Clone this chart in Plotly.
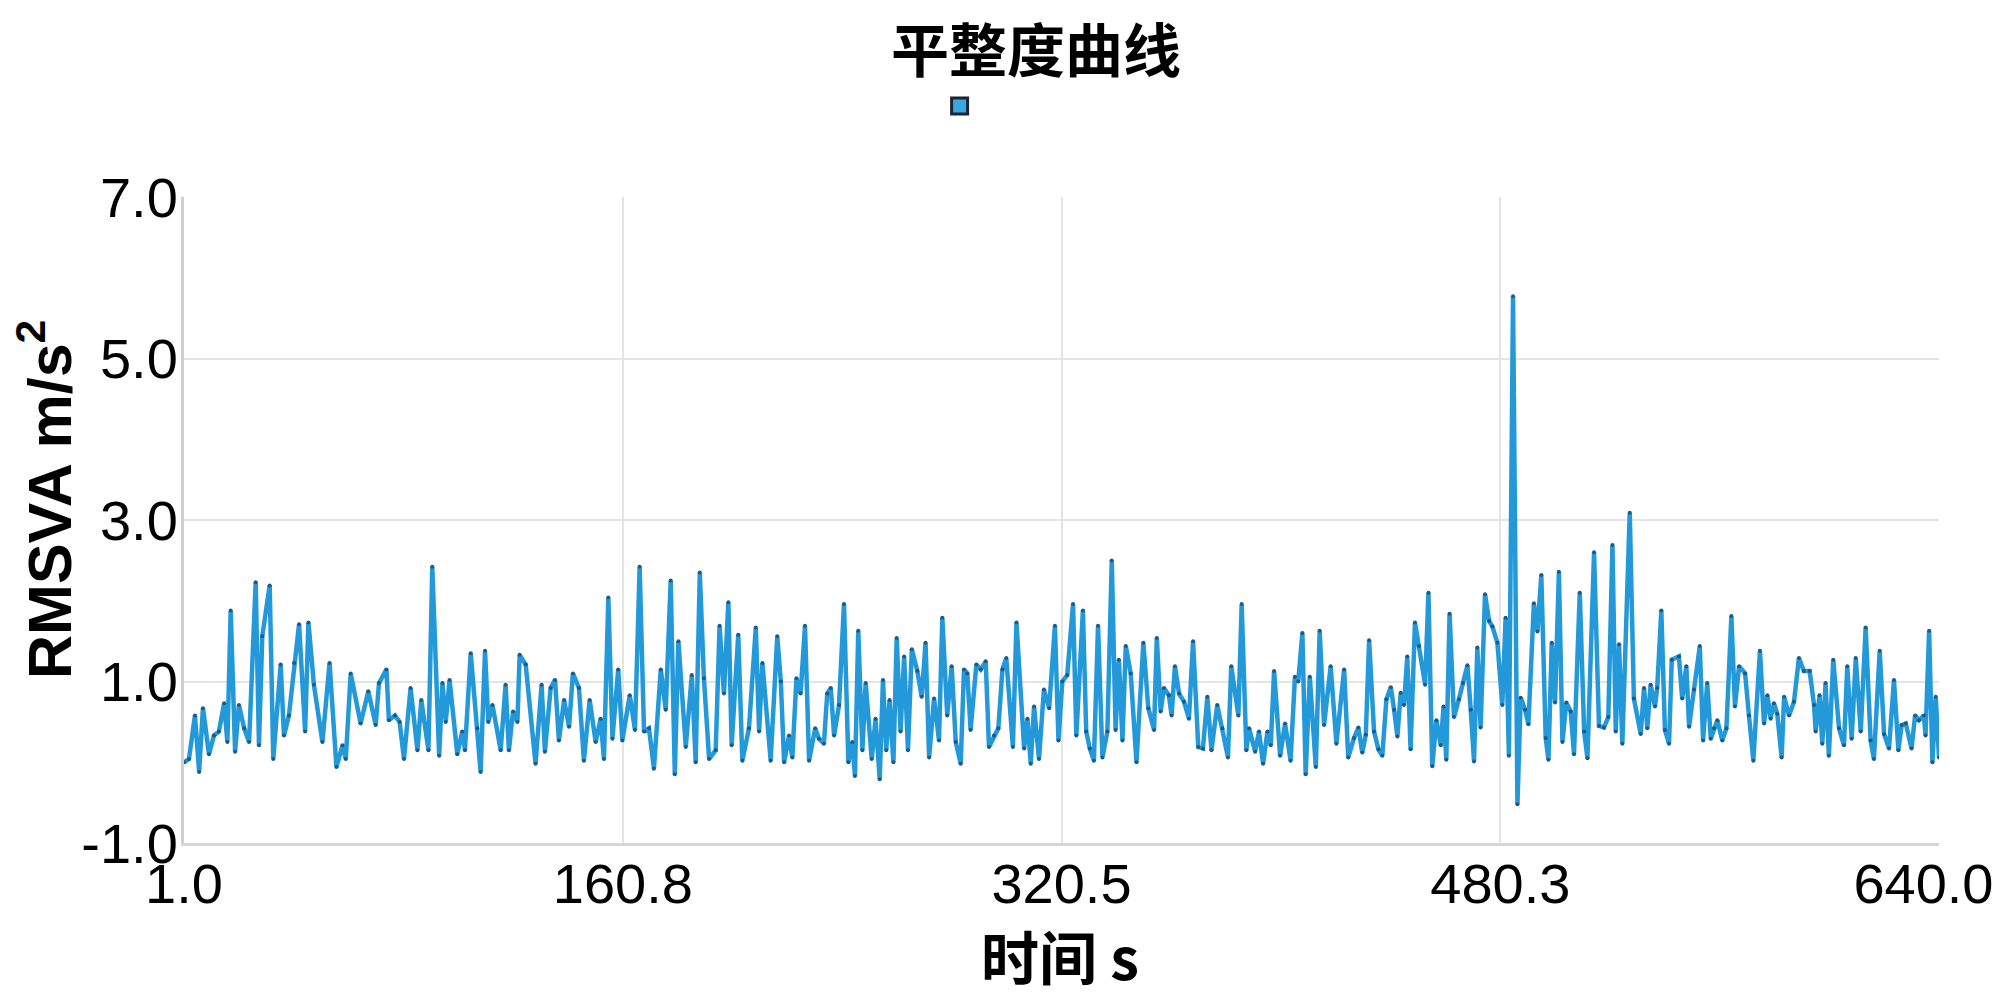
import plotly.graph_objects as go

# time axis (s)
time_s = [
    1.0, 2.8, 5.0, 6.5, 7.9, 10.1, 11.9, 13.7, 15.6, 16.8,
    18.0, 19.6, 21.0, 22.9, 24.7, 27.1, 28.3, 29.5, 32.2, 33.5,
    36.2, 37.4, 39.2, 41.1, 42.9, 45.1, 46.3, 48.3, 51.4, 54.0,
    56.5, 58.7, 59.9, 61.7, 65.3, 68.1, 70.8, 72.0, 74.7, 75.6,
    77.8, 79.5, 81.1, 83.5, 86.0, 87.4, 90.0, 91.4, 93.9, 95.1,
    96.3, 97.7, 100.5, 102.3, 103.3, 105.4, 107.8,
    109.0, 110.6, 111.8, 113.3, 116.3, 118.1, 119.3, 120.8, 122.4, 123.2,
    125.4, 129.0, 131.2, 132.4, 134.5, 136.1, 137.5, 139.4, 141.2, 142.6,
    144.8, 146.6, 148.7, 150.9, 152.7, 153.9, 155.5, 157.0, 159.1, 160.6,
    163.3, 165.2, 166.9, 168.5, 170.3, 172.1, 174.6, 176.4, 178.2, 179.7,
    181.0, 183.7, 185.9, 187.3, 188.8, 190.3, 192.2, 194.6, 196.0, 197.6,
    199.2, 200.4, 202.8, 204.3, 206.7, 209.2, 210.4, 211.6,
    214.6, 217.0, 218.3, 219.5, 221.3, 222.5, 224.0, 225.5, 227.1, 228.6,
    230.8, 232.2, 234.0, 235.2, 236.5, 237.7, 239.5, 241.3, 242.9, 244.3,
    245.3, 246.5, 248.0, 249.2, 251.4, 252.8, 254.3, 255.5, 256.7, 257.9,
    259.3, 260.5, 261.9, 263.2, 264.6, 266.0, 268.0, 269.6, 271.0, 272.3,
    274.1, 275.9, 277.1, 278.9, 280.5, 282.0, 283.8, 285.0, 286.2, 287.4,
    289.5, 291.1, 292.9, 294.1, 295.9, 297.5, 299.0, 300.4, 302.8, 304.1,
    306.9, 308.1, 309.3, 310.5, 312.3, 314.1, 316.0, 318.1,
    319.4, 320.8, 322.6, 324.7, 325.9, 328.3, 329.5, 330.8, 332.3, 333.8,
    335.4, 337.2, 338.8, 340.2, 341.4, 342.7, 343.9, 345.7, 347.8, 350.3,
    352.1, 354.2, 355.2, 356.6, 357.8, 359.6, 360.6, 361.8, 363.3, 365.1,
    366.9, 368.4, 370.3, 372.0, 373.6, 375.1, 377.2, 379.1, 381.1, 382.3,
    384.9, 386.1, 387.8, 388.8, 391.0, 392.4, 393.9, 395.5, 396.7, 397.9,
    400.1, 401.9, 403.9, 405.5, 406.7, 408.2, 409.4, 410.9, 413.1, 414.5,
    416.1, 418.5, 420.6, 423.4, 424.9,
    427.0, 428.6, 430.0, 431.3, 432.5, 434.3, 435.9, 437.3, 438.8, 440.4,
    441.6, 442.8, 444.0, 445.2, 446.4, 447.6, 449.2, 450.7, 452.9, 454.1,
    455.5, 457.0, 458.6, 459.6, 460.6, 461.8, 463.4, 465.2, 466.7, 468.3,
    469.5, 470.7, 471.9, 473.1, 474.7, 476.2, 477.4, 479.2, 481.0, 482.2,
    483.4, 484.9, 486.5, 487.7, 489.3, 490.5, 492.5, 493.8, 495.2, 496.8,
    497.8, 499.0, 500.2, 501.6, 502.9, 504.3, 505.9, 507.1, 509.2, 510.8,
    512.0, 514.4, 516.2, 518.0, 519.6, 521.1, 522.3, 523.5, 524.7, 527.4,
    528.9, 531.4, 532.6, 533.8, 535.0, 536.6, 537.4, 538.9, 540.2, 541.7,
    542.7, 545.3, 546.5, 548.0, 549.0, 550.8, 552.9, 554.1, 555.6, 556.9,
    558.1, 559.3, 561.1, 562.6, 564.4, 565.7, 567.2, 569.4, 570.8, 572.4,
    574.8, 576.3, 577.5, 578.7, 579.9, 581.1, 582.7, 583.6, 585.4, 587.2,
    589.0, 590.8, 592.9, 594.5, 595.1, 596.5, 597.5, 598.7, 599.9, 601.5,
    603.6, 605.4, 606.6, 608.2, 609.7, 611.5, 613.3, 615.1, 616.3, 618.4,
    620.0, 621.8, 623.6, 625.2, 626.4, 627.9, 630.0, 631.3, 632.7, 634.5,
    635.1, 636.4, 637.6, 638.8, 640.0,
]

# RMSVA (m/s^2) at each time
rmsva = [
    0.0, 0.04, 0.58, -0.12, 0.67, 0.10, 0.33, 0.38, 0.73, 0.25,
    1.88, 0.13, 0.71, 0.42, 0.25, 2.23, 0.21, 1.56, 2.19, 0.04,
    1.21, 0.33, 0.58, 1.23, 1.71, 0.38, 1.73, 0.96, 0.25, 1.23,
    -0.06, 0.21, 0.04, 1.10, 0.48, 0.88, 0.46, 0.98, 1.15, 0.52,
    0.58, 0.50, 0.04, 0.92, 0.15, 0.77, 0.15, 2.42, 0.08, 0.98,
    0.50, 1.02, 0.10, 0.38, 0.15, 1.35, 0.42,
    -0.12, 1.38, 0.50, 0.71, 0.15, 0.96, 0.15, 0.63, 0.50, 1.33,
    1.21, -0.02, 0.96, 0.13, 0.92, 1.02, 0.27, 0.77, 0.44, 1.10,
    0.92, 0.02, 0.77, 0.25, 0.54, 0.04, 2.04, 0.29, 1.15, 0.27,
    0.83, 0.40, 2.42, 0.38, 0.42, -0.08, 1.15, 0.65, 2.25, -0.15,
    1.50, 0.19, 1.08, 0.0, 2.35, 1.04, 0.04, 0.15, 1.69, 0.85,
    1.98, 0.21, 1.58, 0.02, 0.42, 1.67, 0.38, 1.23,
    0.02, 1.56, 1.00, 0.0, 0.33, 0.06, 1.04, 0.85, 1.69, 0.02,
    0.42, 0.29, 0.23, 0.85, 0.92, 0.33, 0.71, 1.96, 0.0, 0.25,
    -0.17, 1.63, 0.15, 0.98, 0.04, 0.54, -0.21, 1.02, 0.15, 0.77,
    0.0, 1.54, 0.38, 1.31, 0.15, 1.40, 1.13, 0.81, 1.48, 0.06,
    0.79, 0.27, 1.79, 0.58, 1.19, 0.25, -0.02, 1.15, 1.10, 0.40,
    1.21, 1.15, 1.25, 0.19, 0.33, 0.42, 1.15, 1.29, 0.19, 1.73,
    0.17, 0.54, -0.02, 0.69, 0.04, 0.90, 0.67, 1.69,
    0.27, 1.00, 1.08, 1.96, 0.33, 1.88, 0.38, 0.17, 0.02, 1.69,
    0.06, 0.38, 2.50, 0.40, 1.27, 0.27, 1.44, 1.10, 0.0, 1.48,
    0.67, 0.40, 1.54, 0.63, 0.92, 0.83, 0.58, 1.19, 0.85, 0.75,
    0.54, 1.50, 0.19, 0.17, 0.81, 0.15, 0.71, 0.42, 0.06, 1.19,
    0.58, 1.96, 0.15, 0.42, 0.13, 0.38, -0.02, 0.38, 0.21, 1.13,
    0.08, 0.48, 0.02, 1.06, 1.00, 1.60, -0.15, 1.06, -0.06, 1.63,
    0.46, 1.19, 0.23, 1.15, 0.06,
    0.30, 0.43, 0.12, 0.34, 1.51, 0.38, 0.16, 0.08, 0.78, 0.93,
    0.65, 0.32, 0.86, 0.71, 1.31, 0.16, 1.73, 1.44, 0.96, 2.10,
    -0.05, 0.52, 0.21, 0.69, 0.03, 1.84, 0.56, 0.78, 0.98, 1.20,
    0.65, 0.01, 1.42, 0.43, 2.08, 1.75, 1.68, 1.48, 0.71, 1.79,
    0.08, 5.77, -0.52, 0.80, 0.65, 0.47, 1.97, 1.62, 2.32, 0.30,
    0.03, 1.48, 0.74, 2.36, 0.25, 0.74, 0.63, 0.10, 2.10, 0.38,
    0.05, 2.60, 0.45, 0.43, 0.56, 2.69, 0.38, 1.46, 0.23, 3.09,
    0.79, 0.35, 0.92, 0.42, 0.96, 0.69, 0.92, 1.88, 0.40, 0.23,
    1.27, 1.31, 0.79, 1.19, 0.44, 0.90, 1.44, 0.27, 0.98, 0.29,
    0.42, 0.52, 0.27, 0.42, 1.81, 0.69, 1.19, 1.10, 0.58, 0.02,
    1.38, 0.48, 0.83, 0.54, 0.73, 0.60, 0.06, 0.81, 0.58, 0.75,
    1.29, 1.13, 1.13, 0.71, 0.38, 0.83, 0.23, 0.98, 0.08, 1.27,
    0.42, 0.21, 1.19, 0.29, 1.29, 0.38, 1.67, 0.27, 0.04, 1.38,
    0.35, 0.17, 1.02, 0.15, 0.46, 0.48, 0.17, 0.58, 0.52, 0.58,
    0.33, 1.63, 0.0, 0.81, 0.06,
]

x_ticks = [1.0, 160.8, 320.5, 480.3, 640.0]
y_ticks = [-1.0, 1.0, 3.0, 5.0, 7.0]

LATIN = "Liberation Sans, Arial, Noto Sans CJK SC, sans-serif"
CJK = "Noto Sans CJK SC, Liberation Sans, sans-serif"

# last x label sits pulled in from the right edge, as in the original
x_labels = [f'{v:.1f}' for v in x_ticks]
x_labels[-1] = x_labels[-1] + '\u00a0' * 2

# the page body adds an 8px margin, so the figure is 8px smaller each way
W, H = 1992, 998

fig = go.Figure()

# the curve itself
fig.add_trace(go.Scatter(
    x=time_s,
    y=rmsva,
    mode='lines+markers',
    line=dict(color='#2499da', width=4.5),
    marker=dict(size=4, color='#1d5a85'),
    showlegend=False
))

# legend swatch only (no label in the original)
fig.add_trace(go.Scatter(
    x=[None],
    y=[None],
    mode='markers',
    name=' ',
    marker=dict(symbol='square', size=16, color='#3aa6e2',
                line=dict(color='#1c2530', width=3)),
    showlegend=True
))

fig.update_layout(
    width=W,
    height=H,
    margin=dict(l=176, r=61, t=189, b=163),
    paper_bgcolor='white',
    plot_bgcolor='white',
    title=dict(
        text='<b>平整度曲线</b>',
        font=dict(family=CJK, size=58, color='black'),
        x=1028 / W, xref='container', xanchor='center',
        y=1 - 44 / H, yref='container', yanchor='middle'
    ),
    legend=dict(
        orientation='h',
        x=931.6 / W, xref='container', xanchor='left',
        y=1 - 98.5 / H, yref='container', yanchor='middle',
        font=dict(size=14),
        bgcolor='rgba(0,0,0,0)'
    ),
    xaxis=dict(
        range=[1.0, 640.0],
        tickvals=x_ticks,
        ticktext=x_labels,
        tickfont=dict(family=LATIN, size=56, color='black'),
        ticklabeloverflow='allow',
        ticklabelstandoff=-10,
        showgrid=True, gridcolor='#e4e4e4', gridwidth=2,
        showline=True, linecolor='#d6d6d6', linewidth=3,
        zeroline=False,
        automargin=False
    ),
    yaxis=dict(
        range=[-1.0, 7.0],
        tickvals=y_ticks,
        ticktext=[f'{v:.1f}' for v in y_ticks],
        tickfont=dict(family=LATIN, size=56, color='black'),
        ticklabelstandoff=-8,
        showgrid=True, gridcolor='#e4e4e4', gridwidth=2,
        showline=True, linecolor='#d0d0d0', linewidth=3,
        zeroline=False,
        automargin=False
    ),
    annotations=[
        dict(text='<b>时间 s</b>', xref='paper', yref='paper',
             x=0.499, y=-0.173, xanchor='center', yanchor='middle',
             showarrow=False,
             font=dict(family=CJK, size=58, color='black')),
        dict(text='<b>RMSVA m/s<sup>2</sup></b>', xref='paper', yref='paper',
             x=-0.0792, y=0.531, xanchor='center', yanchor='middle',
             textangle=-90, showarrow=False,
             font=dict(family=LATIN, size=61, color='black')),
    ]
)

fig.write_html("out.html")
